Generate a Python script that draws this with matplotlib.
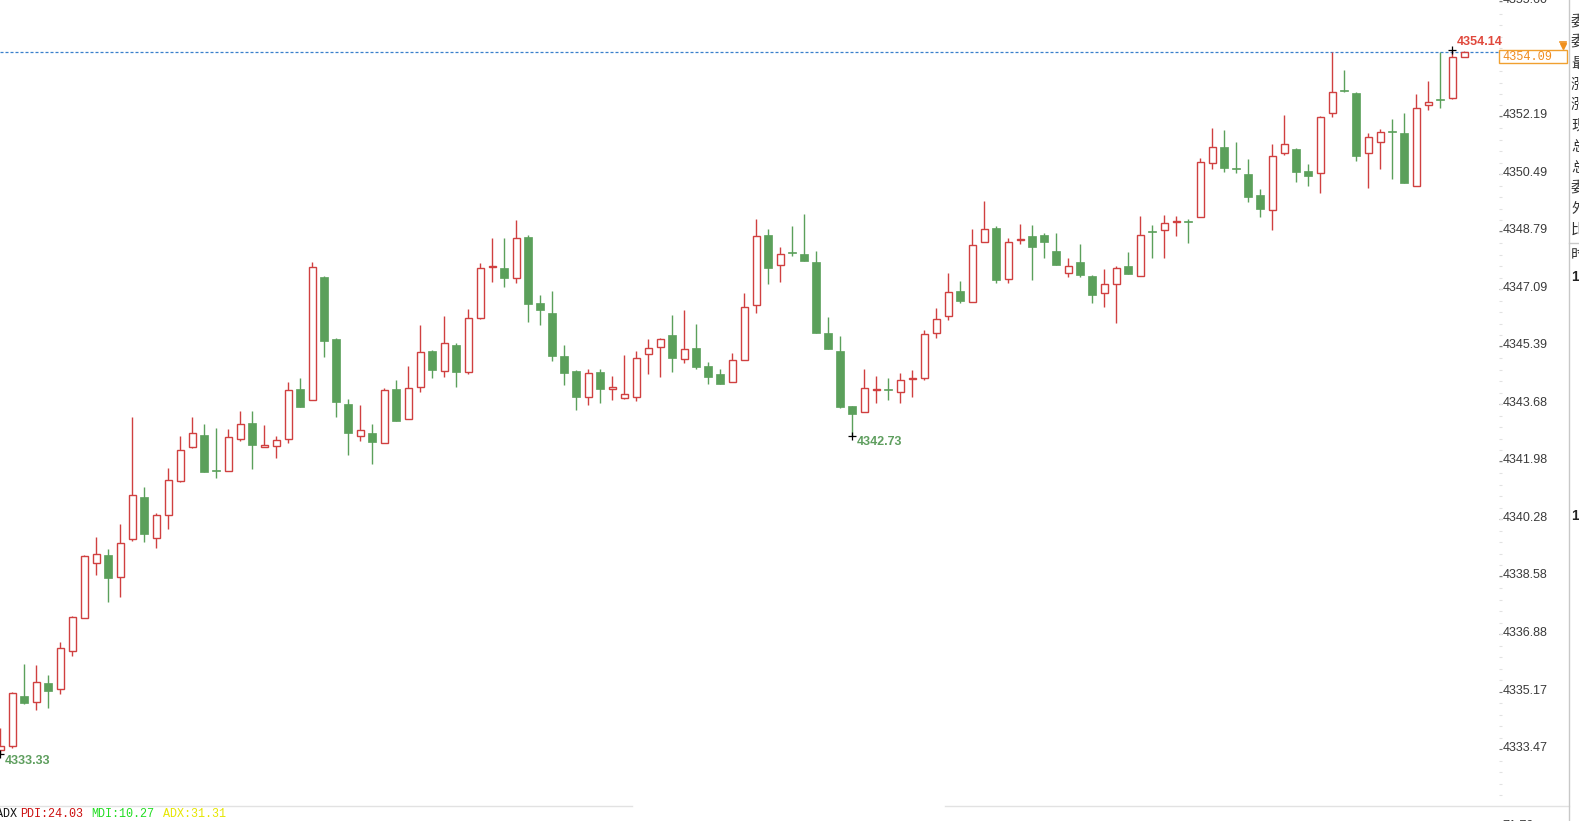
import numpy as np
import matplotlib
matplotlib.use('Agg')
import matplotlib.pyplot as plt
import matplotlib.transforms as mtransforms
from matplotlib.patches import Rectangle
from matplotlib.ticker import FixedLocator, AutoMinorLocator

# ---- K线数据 (从截图读取) ----
opens = [4333.44, 4333.56, 4335.03, 4334.86, 4335.41, 4335.26, 4336.38, 4337.36, 4338.96, 4339.21,
         4338.56, 4339.67, 4340.92, 4339.70, 4340.38, 4341.39, 4342.41, 4342.76, 4341.74, 4341.71,
         4342.65, 4343.13, 4342.42, 4342.45, 4342.63, 4344.11, 4343.81, 4347.43, 4345.60, 4343.68,
         4342.73, 4342.81, 4342.51, 4344.11, 4343.22, 4344.19, 4345.25, 4344.66, 4345.43, 4344.63,
         4346.21, 4347.73, 4347.70, 4347.42, 4348.61, 4346.66, 4346.36, 4345.10, 4344.65, 4343.89,
         4344.62, 4344.11, 4343.87, 4343.89, 4345.15, 4345.36, 4345.72, 4345.00, 4345.35, 4344.80,
         4344.57, 4344.32, 4344.97, 4346.62, 4348.68, 4347.78, 4348.17, 4348.12, 4347.89, 4345.77,
         4345.25, 4343.62, 4343.43, 4344.08, 4344.13, 4344.04, 4344.41, 4344.46, 4345.77, 4346.28,
         4347.02, 4346.71, 4348.46, 4348.88, 4347.39, 4348.53, 4348.65, 4348.68, 4348.20, 4347.56,
         4347.88, 4347.47, 4346.95, 4347.22, 4347.76, 4347.48, 4348.79, 4348.83, 4349.07, 4349.08,
         4349.22, 4350.80, 4351.27, 4350.65, 4350.48, 4349.86, 4349.41, 4351.09, 4351.21, 4350.56,
         4350.50, 4352.28, 4352.96, 4352.88, 4351.09, 4351.42, 4351.77, 4351.69, 4350.13, 4352.53,
         4352.69, 4352.72, 4353.95]
highs = [4334.09, 4335.16, 4335.98, 4335.95, 4335.66, 4336.64, 4337.41, 4339.21, 4339.73, 4339.40,
         4340.13, 4343.28, 4341.21, 4340.44, 4341.78, 4342.73, 4343.28, 4343.10, 4342.98, 4342.93,
         4343.47, 4343.47, 4343.05, 4342.73, 4344.34, 4344.45, 4347.88, 4347.46, 4345.63, 4343.84,
         4343.65, 4343.08, 4344.14, 4344.39, 4344.80, 4346.02, 4345.28, 4346.27, 4345.48, 4346.48,
         4347.84, 4348.58, 4348.58, 4349.12, 4348.68, 4346.90, 4347.03, 4345.43, 4344.68, 4344.71,
         4344.71, 4344.51, 4345.13, 4345.25, 4345.60, 4345.64, 4346.32, 4346.46, 4346.05, 4344.91,
         4344.71, 4345.18, 4346.95, 4349.15, 4348.85, 4348.33, 4348.93, 4349.30, 4348.21, 4346.24,
         4345.70, 4343.62, 4344.71, 4344.51, 4344.46, 4344.60, 4344.68, 4345.87, 4346.53, 4347.54,
         4347.31, 4348.85, 4349.69, 4348.95, 4348.58, 4349.01, 4348.98, 4348.75, 4348.75, 4347.99,
         4348.41, 4347.50, 4347.67, 4347.77, 4348.17, 4349.24, 4348.98, 4349.27, 4349.24, 4349.15,
         4350.97, 4351.83, 4351.78, 4351.42, 4350.94, 4350.03, 4351.36, 4352.23, 4351.24, 4350.77,
         4352.21, 4354.10, 4353.56, 4352.91, 4351.69, 4351.82, 4352.11, 4352.30, 4352.85, 4353.22,
         4354.10, 4354.14, 4354.12]
lows = [4333.33, 4333.50, 4334.80, 4334.62, 4334.69, 4335.11, 4336.22, 4337.36, 4338.61, 4337.82,
        4337.97, 4339.63, 4339.60, 4339.42, 4339.99, 4341.37, 4342.38, 4341.68, 4341.50, 4341.69,
        4342.59, 4341.75, 4342.42, 4342.07, 4342.53, 4343.60, 4343.81, 4345.08, 4343.28, 4342.18,
        4342.59, 4341.89, 4342.51, 4343.18, 4343.22, 4344.04, 4344.46, 4344.49, 4344.19, 4344.56,
        4346.19, 4347.28, 4347.13, 4347.25, 4346.11, 4346.01, 4344.96, 4344.24, 4343.50, 4343.65,
        4343.71, 4343.79, 4343.84, 4343.77, 4344.56, 4344.49, 4344.63, 4344.88, 4344.70, 4344.26,
        4344.26, 4344.32, 4344.97, 4346.37, 4347.22, 4347.29, 4348.06, 4347.92, 4345.78, 4345.32,
        4343.57, 4342.73, 4343.43, 4343.71, 4343.79, 4343.71, 4343.89, 4344.39, 4345.63, 4346.16,
        4346.67, 4346.71, 4348.46, 4347.26, 4347.25, 4348.40, 4347.34, 4348.01, 4347.79, 4347.44,
        4347.44, 4346.68, 4346.55, 4346.08, 4347.51, 4347.48, 4347.99, 4347.99, 4348.65, 4348.45,
        4349.22, 4350.62, 4350.55, 4350.50, 4349.66, 4349.21, 4348.84, 4351.04, 4350.25, 4350.13,
        4349.92, 4352.18, 4352.90, 4350.88, 4350.08, 4350.63, 4350.33, 4350.22, 4350.13, 4352.38,
        4352.43, 4352.70, 4353.93]
closes = [4333.56, 4335.13, 4334.83, 4335.44, 4335.19, 4336.45, 4337.37, 4339.18, 4339.24, 4338.53,
          4339.58, 4340.98, 4339.82, 4340.38, 4341.42, 4342.33, 4342.81, 4341.68, 4341.70, 4342.69,
          4343.10, 4342.48, 4342.48, 4342.60, 4344.08, 4343.60, 4347.72, 4345.55, 4343.73, 4342.81,
          4342.90, 4342.56, 4344.08, 4343.18, 4344.14, 4345.21, 4344.68, 4345.47, 4344.62, 4346.22,
          4347.69, 4347.76, 4347.41, 4348.58, 4346.65, 4346.47, 4345.11, 4344.60, 4343.89, 4344.59,
          4344.13, 4344.19, 4343.96, 4345.03, 4345.33, 4345.59, 4345.05, 4345.30, 4344.78, 4344.49,
          4344.26, 4344.97, 4346.56, 4348.65, 4347.71, 4348.12, 4348.15, 4347.92, 4345.78, 4345.32,
          4343.60, 4343.37, 4344.14, 4344.11, 4344.10, 4344.38, 4344.44, 4345.74, 4346.19, 4346.98,
          4346.73, 4348.37, 4348.85, 4347.36, 4348.46, 4348.56, 4348.33, 4348.48, 4347.79, 4347.76,
          4347.49, 4346.90, 4347.23, 4347.69, 4347.51, 4348.67, 4348.77, 4349.04, 4349.10, 4349.06,
          4350.83, 4351.27, 4350.67, 4350.63, 4349.81, 4349.46, 4351.03, 4351.36, 4350.55, 4350.43,
          4352.18, 4352.90, 4352.93, 4351.03, 4351.57, 4351.72, 4351.74, 4350.22, 4352.43, 4352.61,
          4352.66, 4353.95, 4354.09]

price_ticks = [4333.47, 4335.17, 4336.88, 4338.58, 4340.28, 4341.98, 4343.68,
               4345.39, 4347.09, 4348.79, 4350.49, 4352.19, 4355.60]
y_range = (4331.785, 4355.631)

# 指标栏
adx_name = 'ADX'
pdi, mdi, adx = 24.03, 10.27, 31.31
sub_top_label = '71.79'

# 右侧报价栏 (被截断)
side_rows = ['委', '委', '最', '涨', '涨', '现', '总', '总', '委', '外', '比']

RED = '#d04040'
GREEN = '#5ba05b'
W, H = 1579, 821
PLOT_R, PLOT_B = 1499, 806
STEP = 12.0  # 每根K线像素间距

fig = plt.figure(figsize=(W / 100, H / 100), dpi=100)
fig.patch.set_facecolor('white')
ax = fig.add_axes([0, (H - PLOT_B) / H, PLOT_R / W, PLOT_B / H])
ax.set_facecolor('white')

o = np.array(opens); h = np.array(highs); l = np.array(lows); c = np.array(closes)
n = len(o)
x = np.arange(n)
up = c >= o
lo_b = np.minimum(o, c)
hi_b = np.maximum(o, c)
hgt = np.maximum(hi_b - lo_b, 0.02)

ax.vlines(x[up], l[up], h[up], color=RED, lw=1.0, zorder=2)
ax.vlines(x[~up], l[~up], h[~up], color=GREEN, lw=1.0, zorder=2)
ax.bar(x[up], hgt[up], bottom=lo_b[up], width=0.62, facecolor='white',
       edgecolor=RED, lw=1.0, zorder=3)
ax.bar(x[~up], hgt[~up], bottom=lo_b[~up], width=0.66, facecolor=GREEN,
       edgecolor=GREEN, lw=0.5, zorder=3)

ax.set_xlim(-0.3 / STEP, (PLOT_R - 0.3) / STEP)
ax.set_ylim(*y_range)
for s in ax.spines.values():
    s.set_visible(False)
ax.set_xticks([])

# 右侧价格刻度
ax.yaxis.tick_right()
ax.yaxis.set_major_locator(FixedLocator(price_ticks))
ax.yaxis.set_minor_locator(AutoMinorLocator(5))
ax.set_yticklabels([f'{t:.2f}' for t in price_ticks])
ax.tick_params(axis='y', which='major', length=2.3, width=0.8, color='#777777',
               pad=0.6, labelsize=9, labelcolor='#3a3a3a')
ax.tick_params(axis='y', which='minor', length=2.3, width=0.8, color='#e2e2e2')
lift = mtransforms.ScaledTranslation(0, 2.5 / 100, fig.dpi_scale_trans)
for lab in ax.get_yticklabels():
    lab.set_fontfamily('Liberation Sans')
    lab.set_transform(lab.get_transform() + lift)

# 当前价虚线
last = c[-1]
ax.axhline(last, color='#3a80cc', lw=0.9, ls=(0, (2.4, 1.6)), zorder=1)

per_px = (y_range[1] - y_range[0]) / PLOT_B
bt = mtransforms.blended_transform_factory(ax.transAxes, ax.transData)
ax.add_patch(Rectangle((1.0, last - 11.3 * per_px), 68 / PLOT_R, 13.3 * per_px,
                       transform=bt, facecolor='white', edgecolor='#f0a030',
                       lw=1.0, clip_on=False, zorder=6))
ax.text(1.0 + 3 / PLOT_R, last - 4.6 * per_px, f'{last:.2f}', transform=bt,
        ha='left', va='center', color='#f08c1e', fontsize=8.6,
        family='Liberation Mono', clip_on=False, zorder=7)


# 最高/最低标记
def mark(i, price, color, dy):
    ax.plot(x[i], price, marker='+', ms=6, mew=0.9, color='black',
            zorder=6, clip_on=False)
    ax.annotate(f'{price:.2f}', (x[i], price), xytext=(3.3, dy),
                textcoords='offset points', ha='left', va='center',
                color=color, fontsize=9, fontweight='bold',
                family='Liberation Sans', annotation_clip=False, zorder=7)


i_hi = int(np.argmax(h))
i_lo = int(np.argmin(l))
half = n // 2
i_lo2 = half + int(np.argmin(l[half:]))
mark(i_hi, h[i_hi], '#e0483c', 6.3)
mark(i_lo, l[i_lo], '#5e9e5e', -5.2)
mark(i_lo2, l[i_lo2], '#5e9e5e', -4.5)

# ---- 装饰层 (像素坐标) ----
ov = fig.add_axes([0, 0, 1, 1])
ov.set_xlim(0, W)
ov.set_ylim(H, 0)
ov.axis('off')

ov.plot([0, 632], [806, 806], color='#e2e2e2', lw=1)
ov.plot([945, 1569], [806, 806], color='#e2e2e2', lw=1)
ov.plot([1569, 1569], [0, H], color='#c8c8c8', lw=1)
ov.plot([1569, W], [243, 243], color='#c8c8c8', lw=1)

for k, ch in enumerate(side_rows):
    ov.text(1571, 22 + k * 20.8, ch, ha='left', va='center', fontsize=10.5,
            family='Noto Sans CJK SC', color='#333333')
ov.text(1571, 255, '时', ha='left', va='center', fontsize=10.5,
        family='Noto Sans CJK SC', color='#333333')
ov.text(1571, 277, '1', ha='left', va='center', fontsize=10,
        family='Liberation Sans', fontweight='bold', color='#222222')
ov.text(1571, 516, '1', ha='left', va='center', fontsize=10,
        family='Liberation Sans', fontweight='bold', color='#222222')

# 橙色小图标
ov.plot([1560, 1566], [42, 42], color='#f0901e', lw=1.2)
ov.plot(1563, 46.5, marker='v', ms=4.5, color='#f0901e', mec='#f0901e')

# 副图指标文字
mono = dict(family='Liberation Mono', fontsize=8.5, va='center', ha='left')
ov.text(-4, 814, adx_name, color='#111111', **mono)
ov.text(20.5, 814, f'PDI:{pdi:.2f}', color='#cc1010', **mono)
ov.text(91.5, 814, f'MDI:{mdi:.2f}', color='#22dd22', **mono)
ov.text(163, 814, f'ADX:{adx:.2f}', color='#e6e600', **mono)
ov.text(1502, 826, sub_top_label, ha='left', va='center', fontsize=9,
        family='Liberation Sans', color='#3a3a3a')

fig.savefig('out.png', dpi=100, facecolor='white')
